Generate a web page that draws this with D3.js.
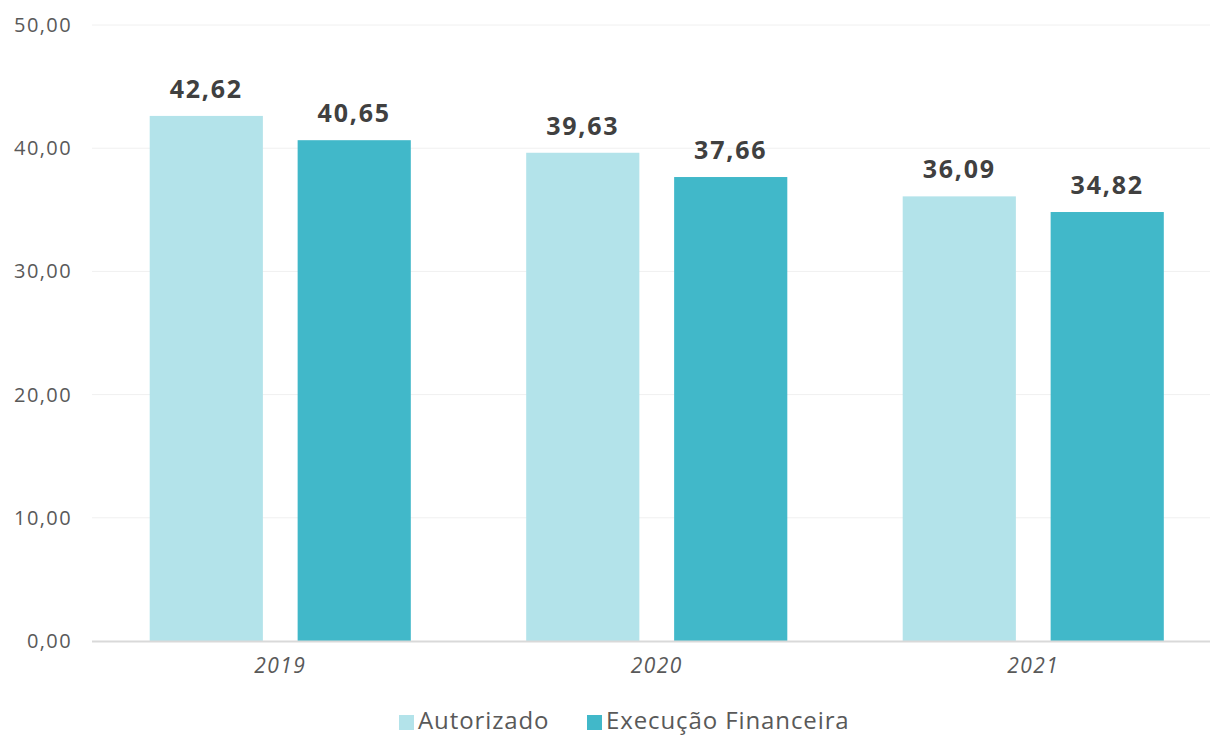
<!DOCTYPE html>
<html>
<head>
<meta charset="utf-8">
<script src="https://cdn.jsdelivr.net/npm/d3@7"></script>
<style>
  html, body { margin: 0; padding: 0; background: #fff; }
  svg { display: block; font-family: "Open Sans", sans-serif; }
</style>
</head>
<body>
<svg id="chart" width="1210" height="736"></svg>
<script>
// Data
const years = ["2019", "2020", "2021"];
const seriesNames = ["Autorizado", "Execução Financeira"];
const autorizado = [42.62, 39.63, 36.09];
const execucao = [40.65, 37.66, 34.82];
const yTicks = [0, 10, 20, 30, 40, 50];
const seriesColors = ["#b3e3ea", "#41b8c9"];

const rows = years.map((y, i) => ({ year: y, values: [autorizado[i], execucao[i]] }));
const fmt = v => d3.format(".2f")(v).replace(".", ",");

const svg = d3.select("#chart");
const margin = { left: 92, right: -11.5, top: 25, bottom: 95 };
const W = 1210, H = 736;

const x = d3.scaleBand()
  .domain(years)
  .range([margin.left, W - margin.right])
  .paddingInner(0)
  .paddingOuter(0);

const xInner = d3.scaleBand()
  .domain([0, 1])
  .range([0, x.bandwidth()])
  .paddingInner(0.235)
  .paddingOuter(0.39);

const y = d3.scaleLinear()
  .domain([0, 50])
  .range([H - margin.bottom, margin.top]);

// Gridlines
svg.append("g")
  .selectAll("line")
  .data(yTicks.slice(1))
  .join("line")
  .attr("x1", margin.left)
  .attr("x2", W)
  .attr("y1", d => y(d))
  .attr("y2", d => y(d))
  .attr("stroke", "#f0f0f0")
  .attr("stroke-width", 1);

// Y axis labels
const yAxis = svg.append("g")
  .attr("transform", `translate(${margin.left},0)`)
  .call(d3.axisLeft(y).tickValues(yTicks).tickFormat(fmt).tickSize(0).tickPadding(20));
yAxis.select(".domain").remove();
yAxis.selectAll("text")
  .attr("fill", "#595959")
  .style("font-size", "20px")
  .style("letter-spacing", "1.4px")
  .style("font-family", "'Open Sans', sans-serif");

// Bars
const groups = svg.append("g")
  .selectAll("g")
  .data(rows)
  .join("g")
  .attr("transform", d => `translate(${x(d.year)},0)`);

groups.selectAll("rect")
  .data(d => d.values.map((v, i) => ({ v, i })))
  .join("rect")
  .attr("x", d => xInner(d.i))
  .attr("width", xInner.bandwidth())
  .attr("y", d => y(d.v))
  .attr("height", d => y(0) - y(d.v))
  .attr("fill", d => seriesColors[d.i]);

// Value labels
groups.selectAll("text.val")
  .data(d => d.values.map((v, i) => ({ v, i })))
  .join("text")
  .attr("class", "val")
  .attr("x", d => xInner(d.i) + xInner.bandwidth() / 2)
  .attr("y", d => y(d.v) - 18)
  .attr("text-anchor", "middle")
  .attr("fill", "#404040")
  .style("font-size", "25px")
  .style("font-weight", "700")
  .style("letter-spacing", "1.8px")
  .text(d => fmt(d.v));

// X axis line
svg.append("line")
  .attr("x1", margin.left)
  .attr("x2", W)
  .attr("y1", y(0) + 0.5)
  .attr("y2", y(0) + 0.5)
  .attr("stroke", "#d9d9d9")
  .attr("stroke-width", 2);

// X axis labels
const xAxis = svg.append("g")
  .attr("transform", `translate(0,${y(0)})`)
  .call(d3.axisBottom(x).tickSize(0).tickPadding(17));
xAxis.select(".domain").remove();
xAxis.selectAll("text")
  .attr("fill", "#595959")
  .style("font-size", "21px")
  .style("font-style", "italic")
  .style("letter-spacing", "1.4px")
  .style("font-family", "'Open Sans', sans-serif");

// Legend
const legendItems = [
  { name: seriesNames[0], color: seriesColors[0], x: 399 },
  { name: seriesNames[1], color: seriesColors[1], x: 587 }
];
const legend = svg.append("g");
legendItems.forEach(item => {
  legend.append("rect")
    .attr("x", item.x)
    .attr("y", 715)
    .attr("width", 15)
    .attr("height", 15)
    .attr("fill", item.color);
  legend.append("text")
    .attr("x", item.x + 19)
    .attr("y", 729)
    .attr("fill", "#595959")
    .style("font-size", "24px")
    .style("letter-spacing", "0.9px")
    .text(item.name);
});
</script>
</body>
</html>
